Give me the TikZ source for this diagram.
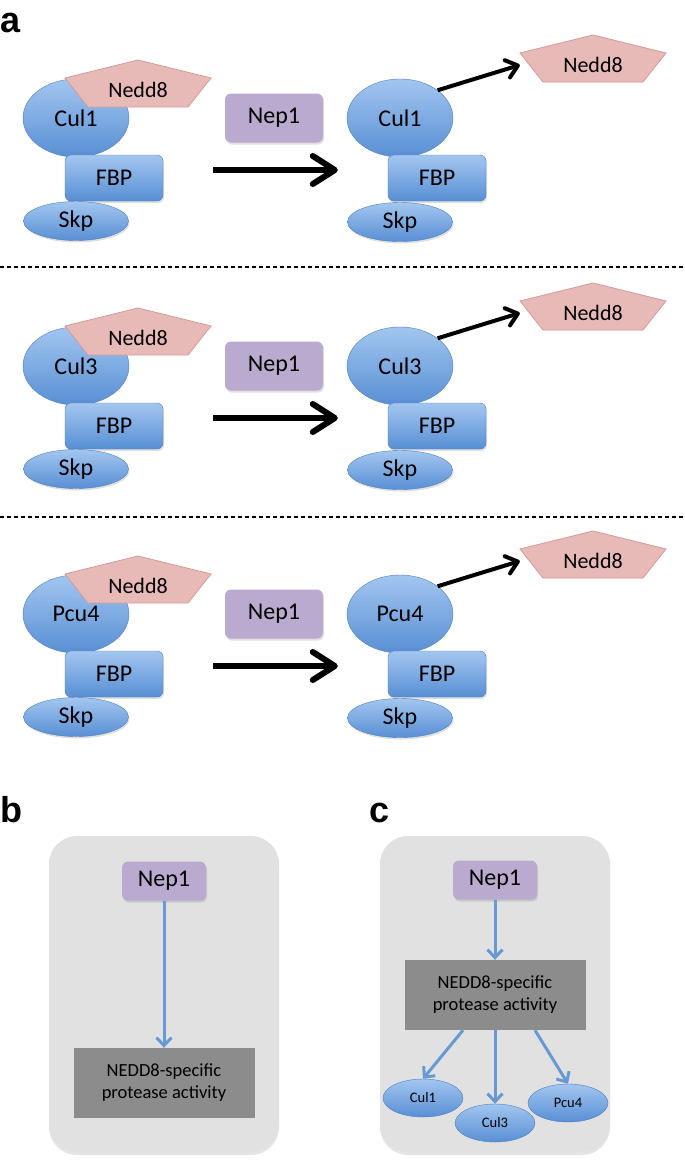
\documentclass[tikz,border=0pt]{standalone}
\usepackage{fontspec}
\setmainfont{Carlito}
\newfontfamily\panelfont{Liberation Sans}
\usetikzlibrary{shapes.geometric,arrows.meta,shadows}

\definecolor{protTop}{RGB}{163,198,240}
\definecolor{protBot}{RGB}{88,143,212}
\definecolor{protLine}{RGB}{76,127,190}
\definecolor{neddFill}{RGB}{231,186,184}
\definecolor{neddLine}{RGB}{214,154,152}
\definecolor{nepFill}{RGB}{186,170,207}
\definecolor{panelGray}{RGB}{225,225,225}
\definecolor{activityGray}{RGB}{140,140,140}
\definecolor{linkBlue}{RGB}{104,153,212}

\tikzset{
  nedd8/.pic={
    \filldraw[fill=neddFill, draw=neddLine, line width=0.8pt]
      (0,-30) -- (73,-12) -- (50,17) -- (-50,17) -- (-73,-12) -- cycle;
    \node[minimum width=146pt, inner sep=0pt, font=\fontsize{22}{26}\selectfont] (-box) {Nedd8};
  }
}

\begin{document}
\begin{tikzpicture}[
    x=1pt, y=-1pt,
    cullin/.style={ellipse, draw=protLine, top color=protTop, bottom color=protBot, minimum width=106pt, minimum height=78pt, inner sep=0pt, font=\fontsize{24}{28}\selectfont},
    fbp/.style={rectangle, rounded corners=6pt, draw=protLine, top color=protTop, bottom color=protBot, minimum width=98pt, minimum height=46pt, inner sep=0pt, font=\fontsize{24}{28}\selectfont, drop shadow={opacity=0.25, shadow xshift=1pt, shadow yshift=-2pt}},
    skp/.style={ellipse, draw=protLine, top color=protTop, bottom color=protBot, minimum width=105pt, minimum height=39pt, inner sep=0pt, font=\fontsize{24}{28}\selectfont, drop shadow={opacity=0.25, shadow xshift=1pt, shadow yshift=-2pt}},
    nep/.style={rectangle, rounded corners=6pt, fill=nepFill, minimum width=98pt, minimum height=49pt, inner sep=0pt, font=\fontsize{24}{28}\selectfont, drop shadow={opacity=0.25, shadow xshift=1pt, shadow yshift=-2pt}},
    small/.style={ellipse, draw=protLine, top color=protTop, bottom color=protBot, minimum width=80pt, minimum height=38pt, inner sep=0pt, font=\fontsize{14.5}{17}\selectfont},
    panel/.style={rectangle, rounded corners=28pt, fill=panelGray, minimum width=230pt, minimum height=316pt, drop shadow={opacity=0.2, shadow xshift=0pt, shadow yshift=-3pt}},
    activity/.style={rectangle, fill=activityGray, minimum width=181pt, minimum height=70pt, align=center, font=\fontsize{18.5}{22}\selectfont},
    bigarrow/.style={line width=6pt, -{Straight Barb[length=22pt,width=28pt,round]}},
    arrow/.style={line width=4pt, -{Straight Barb[length=11pt,width=18pt,round]}},
    link/.style={draw=linkBlue, line width=3pt, -{Straight Barb[length=8pt,width=15pt]}},
    letter/.style={anchor=base west, inner sep=0pt, font=\panelfont\bfseries\fontsize{36}{40}\selectfont}
]
    \fill[white] (0,0) rectangle (685,1162);
    \useasboundingbox (0,0) rectangle (685,1162);

    % Panel a, first row
    \node[letter] (labA) at (0,32) {a};
    \node[cullin] (cul1L) at (76,118) {Cul1};
    \node[fbp] (fbp1L) at (114,178) {FBP};
    \node[skp] (skp1L) at (76,221) {Skp};
    \pic (n1L) at (138,90) {nedd8};
    \node[nep] (nep1) at (274,118) {Nep1};
    \node[cullin] (cul1R) at (400,118) {Cul1};
    \node[fbp] (fbp1R) at (437,178) {FBP};
    \node[skp] (skp1R) at (400,222) {Skp};
    \pic (n1R) at (593,65) {nedd8};
    \draw[bigarrow] ([xshift=50pt,yshift=8pt]fbp1L.east) -- ([xshift=-50pt,yshift=8pt]fbp1R.west);
    \draw[arrow] (cul1R.north east) -- (n1R-box.west);

    \draw[line width=1.2pt, dash pattern=on 4pt off 3pt] (0,267) -- (685,267);

    % Panel a, second row
    \node[cullin] (cul3L) at (76,366) {Cul3};
    \node[fbp] (fbp2L) at (114,426) {FBP};
    \node[skp] (skp2L) at (76,469) {Skp};
    \pic (n2L) at (138,338) {nedd8};
    \node[nep] (nep2) at (274,366) {Nep1};
    \node[cullin] (cul3R) at (400,366) {Cul3};
    \node[fbp] (fbp2R) at (437,426) {FBP};
    \node[skp] (skp2R) at (400,470) {Skp};
    \pic (n2R) at (593,313) {nedd8};
    \draw[bigarrow] ([xshift=50pt,yshift=8pt]fbp2L.east) -- ([xshift=-50pt,yshift=8pt]fbp2R.west);
    \draw[arrow] (cul3R.north east) -- (n2R-box.west);

    \draw[line width=1.2pt, dash pattern=on 4pt off 3pt] (0,517) -- (685,517);

    % Panel a, third row
    \node[cullin] (pcu4L) at (76,614) {Pcu4};
    \node[fbp] (fbp3L) at (114,674) {FBP};
    \node[skp] (skp3L) at (76,717) {Skp};
    \pic (n3L) at (138,586) {nedd8};
    \node[nep] (nep3) at (274,614) {Nep1};
    \node[cullin] (pcu4R) at (400,614) {Pcu4};
    \node[fbp] (fbp3R) at (437,674) {FBP};
    \node[skp] (skp3R) at (400,718) {Skp};
    \pic (n3R) at (593,561) {nedd8};
    \draw[bigarrow] ([xshift=50pt,yshift=8pt]fbp3L.east) -- ([xshift=-50pt,yshift=8pt]fbp3R.west);
    \draw[arrow] (pcu4R.north east) -- (n3R-box.west);

    % Panel b
    \node[letter] (labB) at (0,822) {b};
    \node[panel] (panelB) at (164,994) {};
    \node[nep, minimum width=84pt, minimum height=39pt] (nepB) at (164,881) {Nep1};
    \node[activity] (actB) at (164,1083) {NEDD8-specific\\protease activity};
    \draw[link] (nepB) -- (actB);

    % Panel c
    \node[letter] (labC) at (369,822) {c};
    \node[panel] (panelC) at (495,994) {};
    \node[nep, minimum width=84pt, minimum height=39pt] (nepC) at (495,880) {Nep1};
    \node[activity] (actC) at (495,995) {NEDD8-specific\\protease activity};
    \node[small] (cul1C) at (423,1098) {Cul1};
    \node[small] (cul3C) at (495,1123) {Cul3};
    \node[small] (pcu4C) at (568,1103) {Pcu4};
    \draw[link] (nepC) -- (actC);
    \draw[link] ([xshift=-32pt]actC.south) -- (cul1C.north);
    \draw[link] (actC.south) -- (cul3C.north);
    \draw[link] ([xshift=40pt]actC.south) -- (pcu4C.north);
\end{tikzpicture}
\end{document}
